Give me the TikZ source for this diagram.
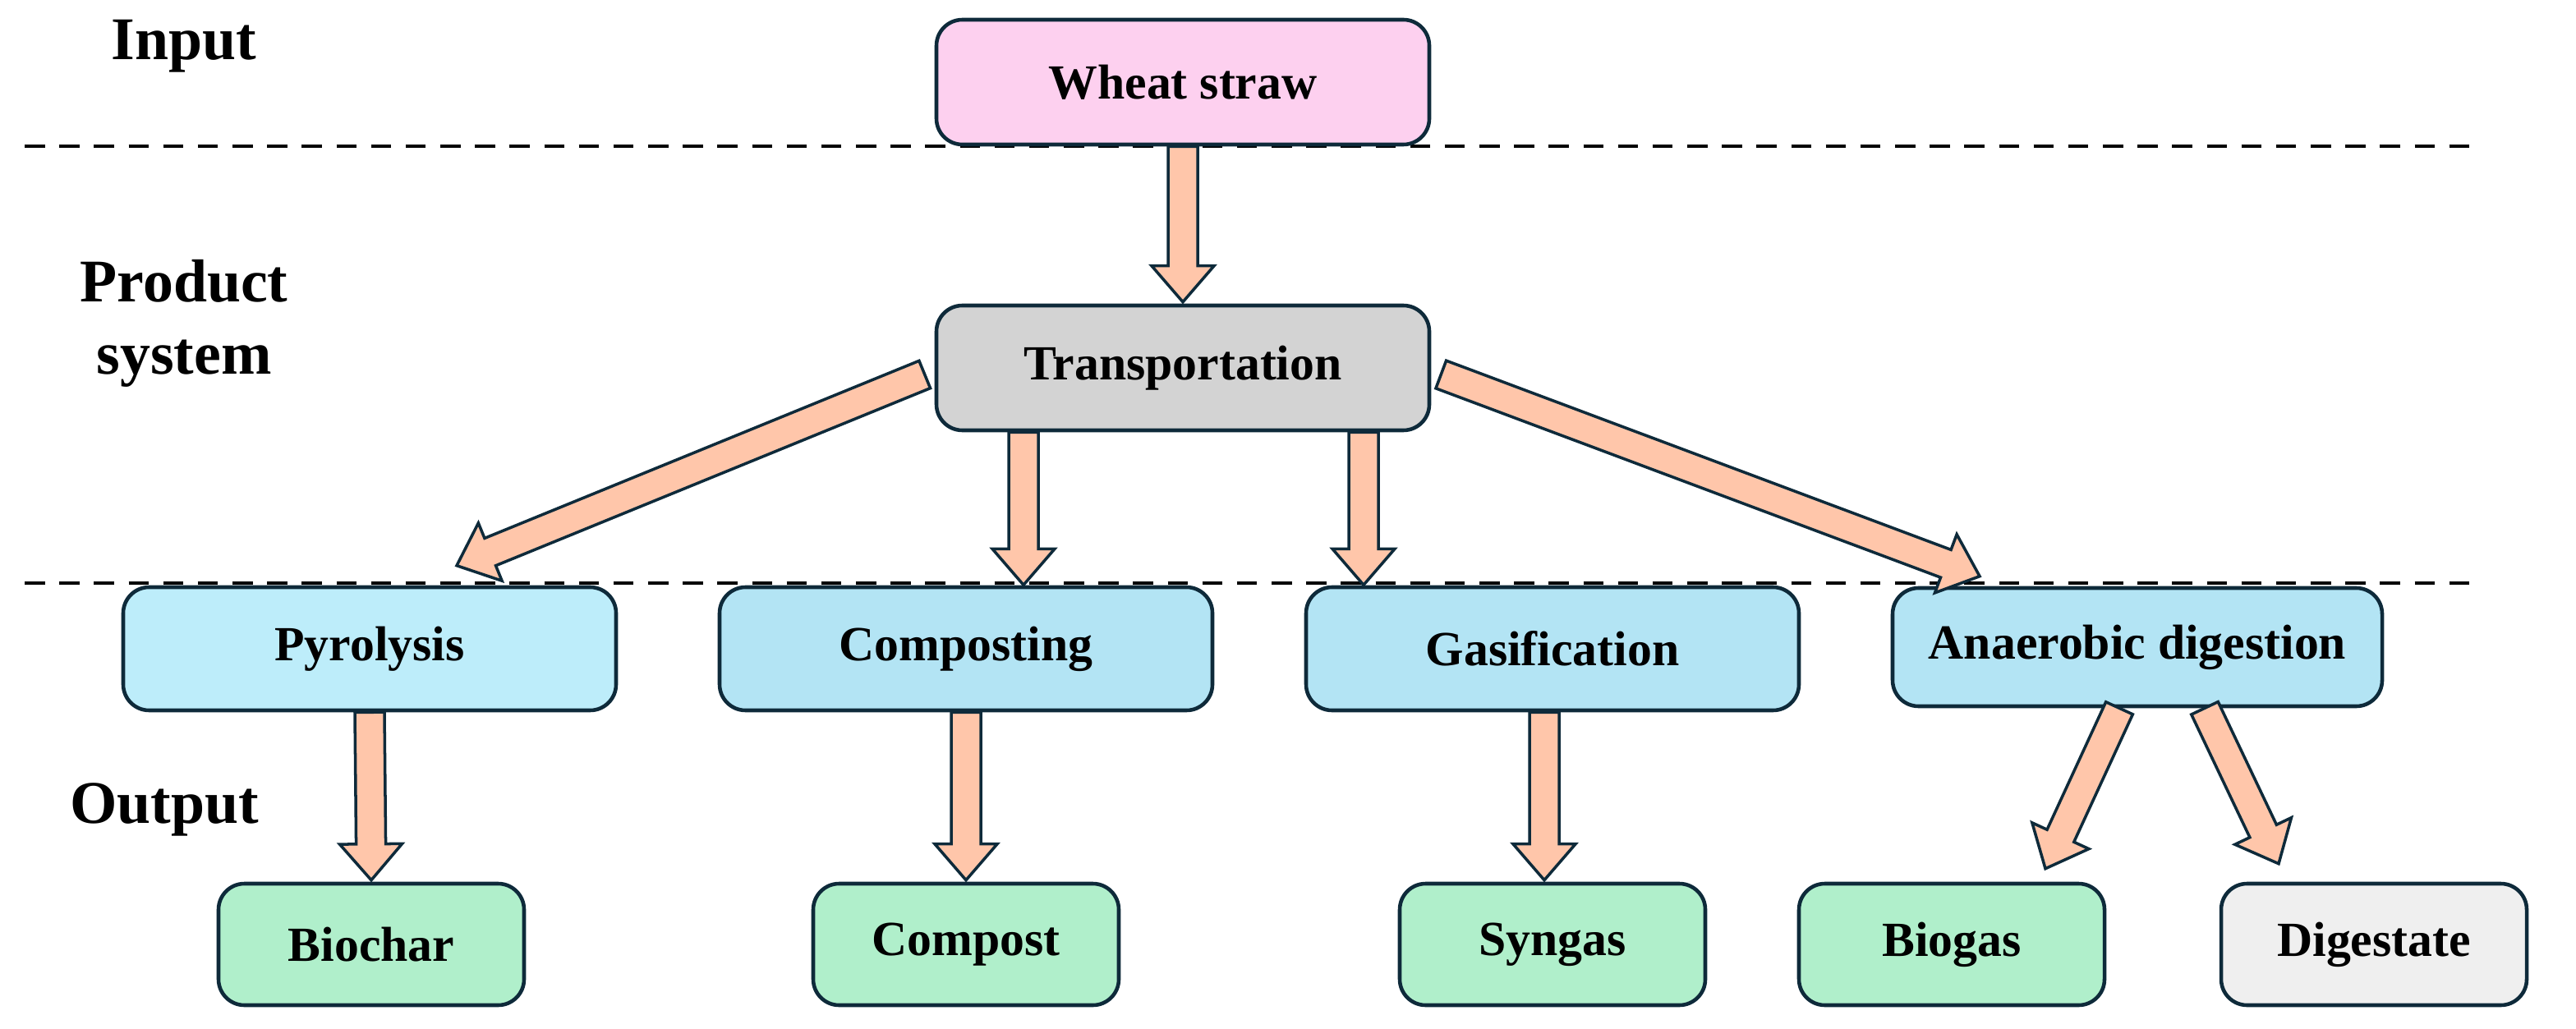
\documentclass[tikz,border=0pt]{standalone}
\usepackage{fontspec}
\setmainfont{Liberation Serif}
\usetikzlibrary{calc}
\definecolor{edge}{HTML}{0E2A3A}
\definecolor{peach}{HTML}{FFC6AA}
\definecolor{pinkbox}{HTML}{FDD0EF}
\definecolor{graybox}{HTML}{D3D3D3}
\definecolor{bluebox}{HTML}{B3E4F4}
\definecolor{lightblue}{HTML}{BDEDFA}
\definecolor{greenbox}{HTML}{B0EFCB}
\definecolor{whitebox}{HTML}{EFEFEF}

\tikzset{
  box/.style={draw=edge, line width=1.3pt, rounded corners=9pt, align=center,
    font=\fontsize{17}{20}\selectfont\bfseries},
  big/.style={minimum width=300*0.02cm, minimum height=75*0.02cm},
  small/.style={minimum width=186*0.02cm, minimum height=74*0.02cm},
  lbl/.style={font=\fontsize{21}{25}\selectfont\bfseries, align=center},
  sep/.style={dashed, line width=1pt, dash pattern=on 7pt off 5pt}
}
% block arrow: start, end
\newcommand{\blockarr}[2]{%
  \coordinate (m) at ($(#2)!22*0.02cm!(#1)$);
  \draw[draw=edge, fill=peach, line width=1pt, line join=miter]
    ($(#1)!9*0.02cm!90:(#2)$) -- ($(m)!9*0.02cm!-90:(#1)$)
    -- ($(m)!19*0.02cm!-90:(#1)$) -- (#2)
    -- ($(m)!19*0.02cm!90:(#1)$) -- ($(m)!9*0.02cm!90:(#1)$)
    -- ($(#1)!9*0.02cm!-90:(#2)$) -- cycle;}

\begin{document}
\begin{tikzpicture}[x=0.02cm, y=-0.02cm]
\useasboundingbox (0,0) rectangle (1568,626.5);

% labels
\node[lbl] (in) at (112,28) {Input};
\node[lbl] (ps) at (112,197) {Product\\system};
\node[lbl] (out) at (100,493) {Output};

% separators
\coordinate (s1a) at (15,89); \coordinate (s1b) at (1508,89);
\coordinate (s2a) at (15,355); \coordinate (s2b) at (1508,355);
\draw[sep] (s1a) -- (s1b);
\draw[sep] (s2a) -- (s2b);

% boxes
\node[box, big, fill=pinkbox, minimum height=76*0.02cm] (ws) at (720,50) {Wheat straw};
\node[box, big, fill=graybox, minimum height=76*0.02cm] (tr) at (720,224) {Transportation};
\node[box, big, fill=lightblue] (py) at (225,395) {Pyrolysis};
\node[box, big, fill=bluebox] (co) at (588,395) {Composting};
\node[box, big, fill=bluebox] (ga) at (945,395) {Gasification};
\node[box, big, fill=bluebox, minimum width=298*0.02cm, minimum height=72*0.02cm] (ad) at (1301,394) {Anaerobic digestion};
\node[box, small, fill=greenbox] (bc) at (226,575) {Biochar};
\node[box, small, fill=greenbox] (cp) at (588,575) {Compost};
\node[box, small, fill=greenbox] (sg) at (945,575) {Syngas};
\node[box, small, fill=greenbox] (bg) at (1188,575) {Biogas};
\node[box, small, fill=whitebox] (dg) at (1445,575) {Digestate};

% arrows
\coordinate (a0s) at (ws.south); \coordinate (a0e) at ($(tr.north)+(0,-1)$);
\blockarr{a0s}{a0e}
\coordinate (a1s) at ($(tr.west)+(-6,4)$); \coordinate (a1e) at ($(py.north)+(53,-12)$);
\blockarr{a1s}{a1e}
\coordinate (a2s) at ($(tr.south)+(-97,0)$); \coordinate (a2e) at ($(a2s)+(0,93)$);
\blockarr{a2s}{a2e}
\coordinate (a3s) at ($(tr.south)+(110,0)$); \coordinate (a3e) at ($(a3s)+(0,93)$);
\blockarr{a3s}{a3e}
\coordinate (a4s) at ($(tr.east)+(6,4)$); \coordinate (a4e) at ($(ad.north)+(-96,-6)$);
\blockarr{a4s}{a4e}
\coordinate (a5s) at (py.south); \coordinate (a5e) at ($(bc.north)+(0,-1)$);
\blockarr{a5s}{a5e}
\coordinate (a6s) at (co.south); \coordinate (a6e) at ($(cp.north)+(0,-1)$);
\blockarr{a6s}{a6e}
\coordinate (a7s) at ($(ga.south)+(-5,0)$); \coordinate (a7e) at ($(sg.north)+(-5,-1)$);
\blockarr{a7s}{a7e}
\coordinate (a8s) at ($(ad.south)+(-11,0)$); \coordinate (a8e) at ($(bg.north)+(57,-8)$);
\blockarr{a8s}{a8e}
\coordinate (a9s) at ($(ad.south)+(41,0)$); \coordinate (a9e) at ($(dg.north)+(-58,-11)$);
\blockarr{a9s}{a9e}
\end{tikzpicture}
\end{document}
